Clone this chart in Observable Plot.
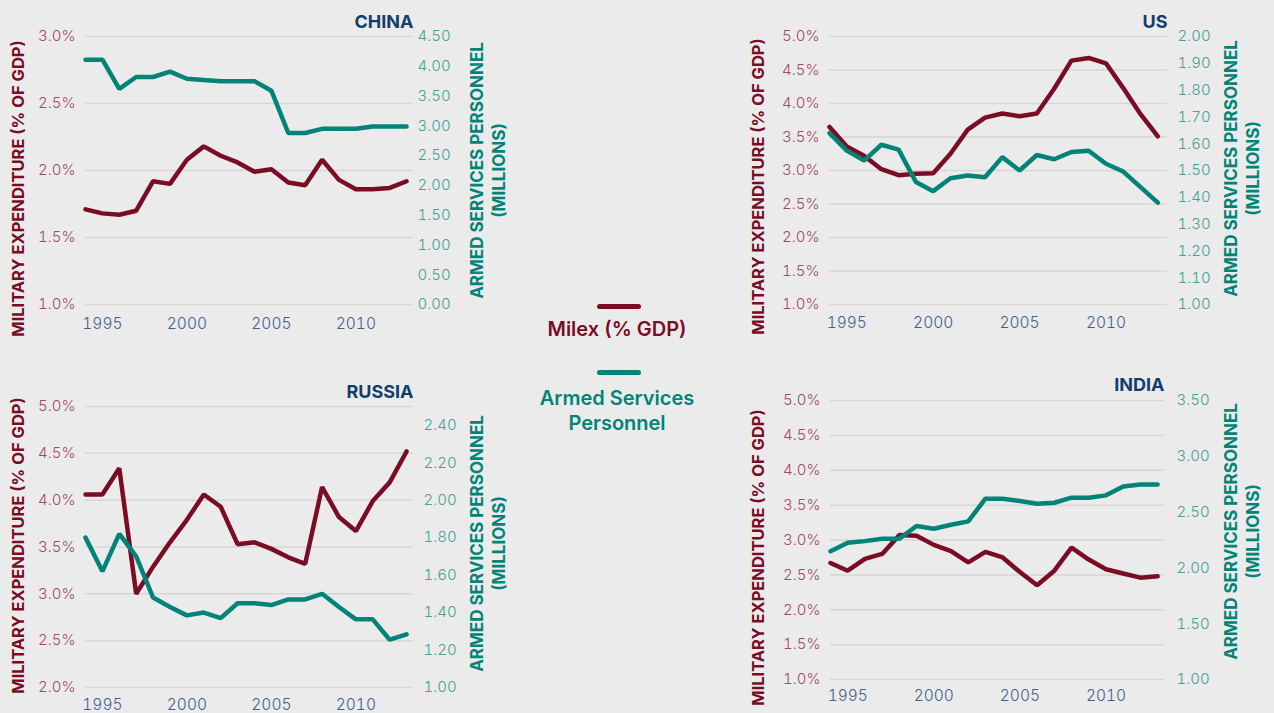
<!DOCTYPE html>
<html><head><meta charset="utf-8">
<script src="https://cdn.jsdelivr.net/npm/d3@7"></script>
<script src="https://cdn.jsdelivr.net/npm/@observablehq/plot@0.6"></script>
<style>
html,body{margin:0;padding:0;background:#ebebeb;}
#wrap{position:relative;width:1274px;height:713px;overflow:hidden;background:#ebebeb;font-family:Inter,"Noto Sans",sans-serif;}
#wrap svg{position:absolute;left:0;top:0;}
.lg-line{position:absolute;height:5px;border-radius:3px;}
.lg-text{position:absolute;text-align:center;font-weight:600;font-size:20px;line-height:25px;transform:translateX(-50%);white-space:nowrap;}
</style></head><body><div id="wrap"></div>
<script>
// ---------- DATA ----------
const years = [1994,1995,1996,1997,1998,1999,2000,2001,2002,2003,2004,2005,2006,2007,2008,2009,2010,2011,2012,2013];
const yearTicks = [1995,2000,2005,2010];

const chinaMilex = [1.71,1.68,1.67,1.70,1.92,1.90,2.08,2.18,2.11,2.06,1.99,2.01,1.91,1.89,2.08,1.93,1.86,1.86,1.87,1.92];
const chinaPersonnel = [4.11,4.11,3.62,3.82,3.82,3.91,3.79,3.77,3.75,3.75,3.75,3.59,2.88,2.88,2.95,2.95,2.95,2.99,2.99,2.99];
const chinaMilexTicks = [1.0,1.5,2.0,2.5,3.0];
const chinaPersonnelTicks = [0.00,0.50,1.00,1.50,2.00,2.50,3.00,3.50,4.00,4.50];

const russiaMilex = [4.06,4.06,4.34,3.00,3.29,3.55,3.79,4.06,3.93,3.53,3.55,3.48,3.39,3.32,4.14,3.82,3.67,3.99,4.19,4.52];
const russiaPersonnel = [1.80,1.62,1.82,1.70,1.48,1.43,1.385,1.40,1.37,1.45,1.45,1.44,1.47,1.47,1.50,1.43,1.364,1.364,1.255,1.284];
const russiaMilexTicks = [2.0,2.5,3.0,3.5,4.0,4.5,5.0];
const russiaPersonnelTicks = [1.00,1.20,1.40,1.60,1.80,2.00,2.20,2.40];

const usMilex = [3.65,3.36,3.22,3.02,2.93,2.95,2.96,3.25,3.61,3.79,3.85,3.81,3.85,4.22,4.64,4.68,4.60,4.23,3.84,3.51];
const usPersonnel = [1.639,1.574,1.537,1.596,1.578,1.457,1.423,1.471,1.481,1.475,1.55,1.50,1.558,1.542,1.569,1.574,1.525,1.496,1.438,1.38];
const usMilexTicks = [1.0,1.5,2.0,2.5,3.0,3.5,4.0,4.5,5.0];
const usPersonnelTicks = [1.00,1.10,1.20,1.30,1.40,1.50,1.60,1.70,1.80,1.90,2.00];

const indiaMilex = [2.67,2.56,2.73,2.80,3.07,3.06,2.93,2.84,2.68,2.83,2.75,2.54,2.35,2.56,2.89,2.72,2.58,2.52,2.46,2.48];
const indiaPersonnel = [2.15,2.226,2.24,2.262,2.262,2.375,2.351,2.387,2.417,2.62,2.62,2.60,2.575,2.584,2.629,2.629,2.65,2.73,2.748,2.748];
const indiaMilexTicks = [1.0,1.5,2.0,2.5,3.0,3.5,4.0,4.5,5.0];
const indiaPersonnelTicks = [1.00,1.50,2.00,2.50,3.00,3.50];

const leftTitle = "MILITARY EXPENDITURE (% OF GDP)";
const rightTitle = "ARMED SERVICES PERSONNEL\n(MILLIONS)";
const legendLabels = ["Milex (% GDP)", "Armed Services\nPersonnel"];

// ---------- STYLE / LAYOUT ----------
const MAROON = "#7a0c25", TEAL = "#008478";
const W = 1274, H = 713;
const panels = [
  {name:"CHINA", milex:chinaMilex, pers:chinaPersonnel, mt:chinaMilexTicks, pt:chinaPersonnelTicks,
   yDom:[1,3], y2Dom:[0,4.5], L:85, R:413, T:36, B:304, xMax:2013.41, rPad:4, xPad:13,
   titleY:22, lX:18, lY:188, rX:486, rY:170},
  {name:"RUSSIA", milex:russiaMilex, pers:russiaPersonnel, mt:russiaMilexTicks, pt:russiaPersonnelTicks,
   yDom:[2,5], y2Dom:[1,2.5], L:85, R:413, T:406, B:687, xMax:2013.41, rPad:10, xPad:11,
   titleY:392, lX:18, lY:545, rX:486, rY:543},
  {name:"US", milex:usMilex, pers:usPersonnel, mt:usMilexTicks, pt:usPersonnelTicks,
   yDom:[1,5], y2Dom:[1,2], L:829, R:1167, T:36, B:304, xMax:2013.56, rPad:10, xPad:12,
   titleY:22, lX:758, lY:186, rX:1240, rY:168},
  {name:"INDIA", milex:indiaMilex, pers:indiaPersonnel, mt:indiaMilexTicks, pt:indiaPersonnelTicks,
   yDom:[1,5], y2Dom:[1,3.5], L:830, R:1164, T:400, B:679, xMax:2013.4, rPad:12, xPad:10,
   titleY:385, lX:758, lY:557, rX:1240, rY:531}
];

const wrap = document.getElementById("wrap");

for (const p of panels) {
  const to1 = d3.scaleLinear().domain(p.y2Dom).range(p.yDom);
  const milexData = years.map((y,i)=>({year:y, v:p.milex[i]}));
  const persData = years.map((y,i)=>({year:y, v:to1(p.pers[i])}));
  const midY = (p.T + p.B)/2;
  const chart = Plot.plot({
    width: W, height: H,
    marginLeft: p.L, marginRight: W - p.R, marginTop: p.T, marginBottom: H - p.B,
    style: {background:"transparent", fontFamily:"Inter, 'Noto Sans', sans-serif", overflow:"visible"},
    x: {domain:[1994, p.xMax], axis:null},
    y: {domain:p.yDom, axis:null},
    marks: [
      Plot.ruleY(p.mt, {stroke:"#d6d6d6", strokeWidth:1.5}),
      Plot.axisY({anchor:"left", ticks:p.mt, tickSize:0, tickPadding:10, tickFormat:d=>d.toFixed(1)+"%",
        fill:"#a3495d", fontSize:15, fontWeight:300, label:null}),
      Plot.axisY({anchor:"right", ticks:p.pt.map(to1), tickSize:0, tickPadding:p.rPad,
        tickFormat:d=>to1.invert(d).toFixed(2), fill:"#46a097", fontSize:15, fontWeight:300, label:null}),
      Plot.axisX({anchor:"bottom", ticks:yearTicks, tickSize:0, tickPadding:p.xPad, tickFormat:d=>String(d),
        fill:"#41608f", fontSize:15.5, fontWeight:300, label:null}),
      Plot.line(milexData, {x:"year", y:"v", stroke:MAROON, strokeWidth:4.5, strokeLinejoin:"miter"}),
      Plot.line(persData, {x:"year", y:"v", stroke:TEAL, strokeWidth:4.5, strokeLinejoin:"miter"}),
      Plot.text([p.name], {frameAnchor:"top-right", textAnchor:"end", lineAnchor:"middle", dy:p.titleY - p.T,
        fill:"#133d6e", fontSize:18, fontWeight:"bold"}),
      Plot.text([leftTitle], {frameAnchor:"left", rotate:-90, textAnchor:"middle", lineAnchor:"middle",
        dx:p.lX - p.L, dy:p.lY - midY, fill:MAROON, fontSize:16.5, fontWeight:"bold"}),
      Plot.text([rightTitle], {frameAnchor:"right", rotate:-90, textAnchor:"middle", lineAnchor:"middle",
        dx:p.rX - p.R, dy:p.rY - midY, fill:TEAL, fontSize:17, fontWeight:"bold", lineHeight:1.3})
    ]
  });
  wrap.appendChild(chart);
}

// ---------- LEGEND ----------
const legendColors = [MAROON, TEAL];
const legendLineTop = [304, 370];
const legendTextTop = [317, 386];
legendLabels.forEach((lab, i) => {
  const ln = document.createElement("div");
  ln.className = "lg-line";
  ln.style.cssText = `left:597px;width:44px;top:${legendLineTop[i]}px;background:${legendColors[i]};`;
  wrap.appendChild(ln);
  const tx = document.createElement("div");
  tx.className = "lg-text";
  tx.style.cssText = `left:617px;top:${legendTextTop[i]}px;color:${legendColors[i]};`;
  tx.innerHTML = lab.split("\n").join("<br>");
  wrap.appendChild(tx);
});
</script></body></html>
